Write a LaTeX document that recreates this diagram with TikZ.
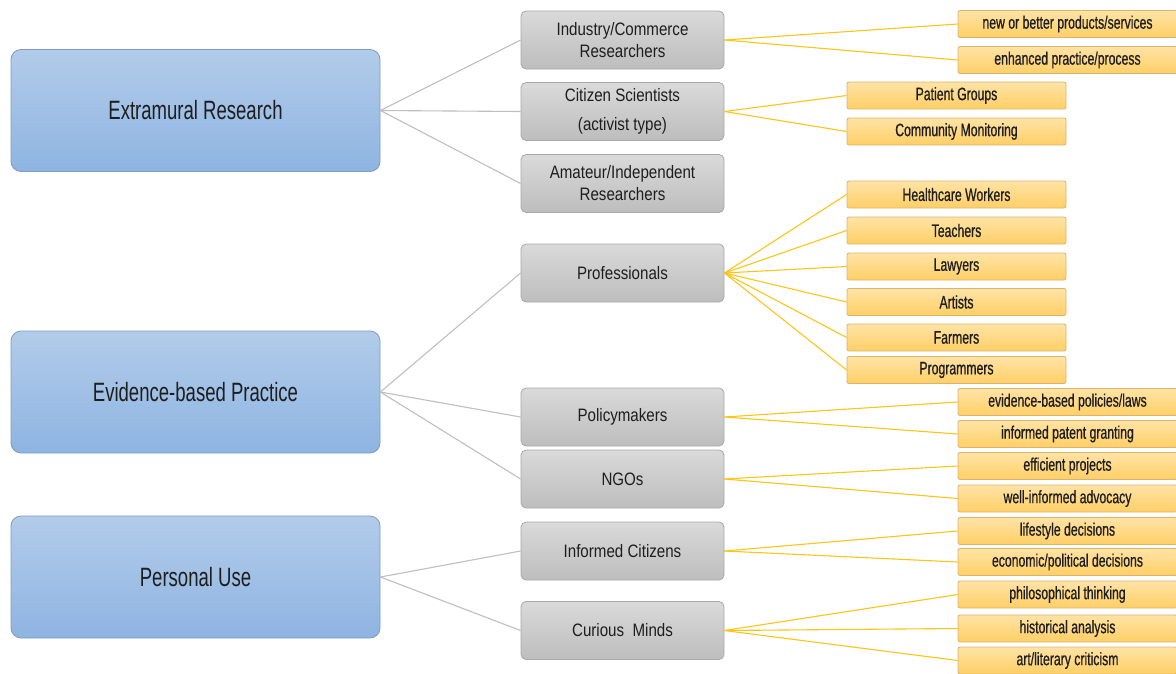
\documentclass[tikz,border=0pt]{standalone}
\usepackage{fontspec}
\setmainfont{Liberation Sans}
\newfontfamily\bluefont{Liberation Sans}[FakeStretch=0.70]
\newfontfamily\grayfont{Liberation Sans}[FakeStretch=0.84]
\newfontfamily\yelfont{Liberation Sans}[FakeStretch=0.68,FakeBold=0.7]
\definecolor{cattop}{HTML}{B2CCEA}
\definecolor{catbot}{HTML}{8EB4E1}
\definecolor{catborder}{HTML}{7F9CC0}
\definecolor{grptop}{HTML}{DADADA}
\definecolor{grpbot}{HTML}{BDBDBD}
\definecolor{grpborder}{HTML}{A8A8A8}
\definecolor{outtop}{HTML}{FFE3A6}
\definecolor{outbot}{HTML}{FFCF66}
\definecolor{outborder}{HTML}{D9B46A}
\definecolor{glinecol}{HTML}{BFBFBF}
\definecolor{ylinecol}{HTML}{FFC416}
\definecolor{txt}{HTML}{1E1E1E}
\begin{document}
\begin{tikzpicture}[x=1pt,y=-1pt,
 catbox/.style={draw=catborder, line width=0.8pt, rounded corners=10pt, top color=cattop, bottom color=catbot, minimum width=369pt, minimum height=122pt, inner sep=0pt, font=\bluefont\fontsize{26.5}{30}\selectfont, text=txt},
 grpbox/.style={draw=grpborder, line width=0.8pt, rounded corners=5pt, top color=grptop, bottom color=grpbot, minimum width=203pt, minimum height=58pt, inner sep=0pt, align=center, font=\grayfont\fontsize{18}{22}\selectfont, text=txt},
 outbox/.style={draw=outborder, line width=0.8pt, rounded corners=2pt, top color=outtop, bottom color=outbot, minimum width=219pt, minimum height=27pt, inner sep=0pt, font=\yelfont\fontsize{18}{20}\selectfont, text=txt},
 glink/.style={draw=glinecol, line width=1.1pt},
 ylink/.style={draw=ylinecol, line width=1.1pt}]
\useasboundingbox (0,0) rectangle (1176,673);
% categories
\node[catbox] (er) at (195.5,110.5) {Extramural Research};
\node[catbox] (ebp) at (195.5,392) {Evidence-based Practice};
\node[catbox] (pu) at (195.5,577) {Personal Use};
% groups
\node[grpbox] (ind) at (622.5,40) {Industry/Commerce\\Researchers};
\node[grpbox] (cit) at (622.5,111.5) {Citizen Scientists\\[7pt](activist type)};
\node[grpbox] (ama) at (622.5,183.5) {Amateur/Independent\\Researchers};
\node[grpbox] (pro) at (622.5,273) {Professionals};
\node[grpbox] (pol) at (622.5,417) {Policymakers};
\node[grpbox] (ngo) at (622.5,479) {NGOs};
\node[grpbox] (inf) at (622.5,551) {Informed Citizens};
\node[grpbox] (cur) at (622.5,630.5) {Curious\ \ Minds};
% middle outputs
\node[outbox] (pg) at (956.5,95.5) {Patient Groups};
\node[outbox] (cm) at (956.5,131.5) {Community Monitoring};
\node[outbox] (hw) at (956.5,194.5) {Healthcare Workers};
\node[outbox] (te) at (956.5,230.5) {Teachers};
\node[outbox] (la) at (956.5,266.5) {Lawyers};
\node[outbox] (ar) at (956.5,302) {Artists};
\node[outbox] (fa) at (956.5,337.5) {Farmers};
\node[outbox] (pr) at (956.5,370) {Programmers};
% right outputs
\node[outbox] (nb) at (1067.5,24) {new or better products/services};
\node[outbox] (ep) at (1067.5,60) {enhanced practice/process};
\node[outbox] (ebl) at (1067.5,402) {evidence-based policies/laws};
\node[outbox] (ipg) at (1067.5,434) {informed patent granting};
\node[outbox] (efp) at (1067.5,466) {efficient projects};
\node[outbox] (wia) at (1067.5,498.5) {well-informed advocacy};
\node[outbox] (lsd) at (1067.5,531) {lifestyle decisions};
\node[outbox] (epd) at (1067.5,562) {economic/political decisions};
\node[outbox] (pht) at (1067.5,594.5) {philosophical thinking};
\node[outbox] (hia) at (1067.5,628.5) {historical analysis};
\node[outbox] (alc) at (1067.5,660.5) {art/literary criticism};
% gray connectors
\draw[glink] (er.east) -- (ind.west);
\draw[glink] (er.east) -- (cit.west);
\draw[glink] (er.east) -- (ama.west);
\draw[glink] (ebp.east) -- (pro.west);
\draw[glink] (ebp.east) -- (pol.west);
\draw[glink] (ebp.east) -- (ngo.west);
\draw[glink] (pu.east) -- (inf.west);
\draw[glink] (pu.east) -- (cur.west);
% yellow connectors
\draw[ylink] (ind.east) -- (nb.west);
\draw[ylink] (ind.east) -- (ep.west);
\draw[ylink] (cit.east) -- (pg.west);
\draw[ylink] (cit.east) -- (cm.west);
\foreach \t in {hw,te,la,ar,fa,pr} \draw[ylink] (pro.east) -- (\t.west);
\draw[ylink] (pol.east) -- (ebl.west);
\draw[ylink] (pol.east) -- (ipg.west);
\draw[ylink] (ngo.east) -- (efp.west);
\draw[ylink] (ngo.east) -- (wia.west);
\draw[ylink] (inf.east) -- (lsd.west);
\draw[ylink] (inf.east) -- (epd.west);
\draw[ylink] (cur.east) -- (pht.west);
\draw[ylink] (cur.east) -- (hia.west);
\draw[ylink] (cur.east) -- (alc.west);
\end{tikzpicture}
\end{document}
